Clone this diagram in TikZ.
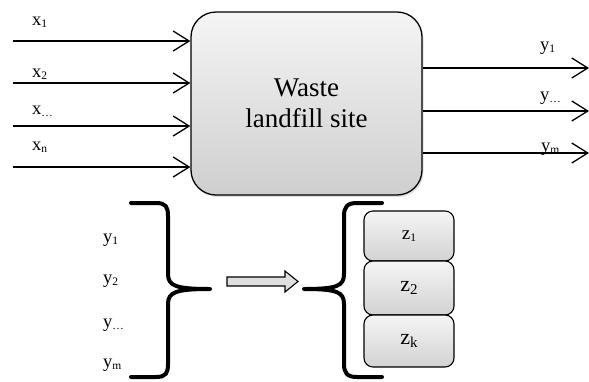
\documentclass[tikz,border=0pt]{standalone}
\usepackage{fontspec}
\setmainfont{Liberation Serif}
\usetikzlibrary{arrows.meta,shadows}
\newcommand{\lowsub}[1]{\raisebox{-2.5pt}{\fontsize{11.5pt}{12pt}\selectfont #1}}
\newcommand{\bigsub}[1]{\raisebox{-3pt}{\fontsize{15pt}{16pt}\selectfont #1}}
\tikzset{
  flow/.style={line width=1.3pt,-{Straight Barb[length=16pt,width=20pt,line width=1.3pt]}},
  lbl/.style={font=\fontsize{18.5pt}{20pt}\selectfont, inner sep=0pt, anchor=base west},
  site/.style={draw, line width=1.3pt, rounded corners=25pt, top color=gray!8, bottom color=gray!38,
     drop shadow={opacity=0.25, shadow xshift=1.5pt, shadow yshift=-2pt}},
  zbox/.style={draw, line width=1.1pt, rounded corners=9pt, top color=gray!8, bottom color=gray!35,
     minimum width=90pt, inner sep=0pt},
  brace/.style={line width=4pt, line cap=round, line join=round},
}
\begin{document}
\begin{tikzpicture}[x=1pt,y=-1pt]
\useasboundingbox (0,0) rectangle (589,381);
% main box
\node[site, minimum width=231pt, minimum height=183pt, align=center,
      font=\fontsize{27pt}{31pt}\selectfont] (site) at (306.5,103.5) {Waste\\landfill site};
% inputs
\coordinate (i1) at (13,41);
\coordinate (i2) at (13,83);
\coordinate (i3) at (13,126);
\coordinate (i4) at (13,167);
\foreach \c in {i1,i2,i3,i4} \draw[flow] (\c) -- (site.west |- \c);
\node[lbl] (x1) at (32,25) {x\lowsub{1}};
\node[lbl] (x2) at (32,77) {x\lowsub{2}};
\node[lbl] (x3) at (32,114) {x\lowsub{\ldots}};
\node[lbl] (x4) at (32,150) {x\lowsub{n}};
% outputs
\coordinate (o1) at (589,68);
\coordinate (o2) at (589,111);
\coordinate (o3) at (589,153);
\foreach \c in {o1,o2,o3} \draw[flow] (site.east |- \c) -- (\c);
\node[lbl] (y1) at (540,50) {y\lowsub{1}};
\node[lbl] (y2) at (540,100) {y\lowsub{\ldots}};
\node[lbl] (y3) at (541,151) {y\lowsub{m}};
% left list
\node[lbl] (ly1) at (103,242) {y\lowsub{1}};
\node[lbl] (ly2) at (103,283) {y\lowsub{2}};
\node[lbl] (ly3) at (103,327) {y\lowsub{\ldots}};
\node[lbl] (ly4) at (103,367) {y\lowsub{m}};
% left brace
\draw[brace] (131,203) -- (156,203) .. controls (166,203) and (168,207) .. (168,216)
  -- (168,274) .. controls (168,286) and (176,289) .. (210,289)
  .. controls (176,289) and (168,292) .. (168,304)
  -- (168,364) .. controls (168,373) and (166,377) .. (156,377) -- (131,377);
% hollow arrow
\draw[line width=1.1pt, fill=gray!25] (227,277) -- (285,277) -- (285,271) -- (298,281.5)
  -- (285,292) -- (285,286) -- (227,286) -- cycle;
% right brace
\draw[brace] (382,203) -- (357,203) .. controls (347,203) and (344,207) .. (344,216)
  -- (344,274) .. controls (344,286) and (337,289) .. (304,289)
  .. controls (337,289) and (344,292) .. (344,304)
  -- (344,364) .. controls (344,373) and (347,377) .. (357,377) -- (382,377);
% z boxes
\node[zbox, minimum height=50pt, font=\fontsize{19pt}{20pt}\selectfont] (z1) at (409,236) {z\lowsub{1}};
\node[zbox, minimum height=54pt, font=\fontsize{22pt}{24pt}\selectfont] (z2) at (409,288) {z\bigsub{2}};
\node[zbox, minimum height=52pt, font=\fontsize{22pt}{24pt}\selectfont] (z3) at (409,341) {z\bigsub{k}};
\end{tikzpicture}
\end{document}
